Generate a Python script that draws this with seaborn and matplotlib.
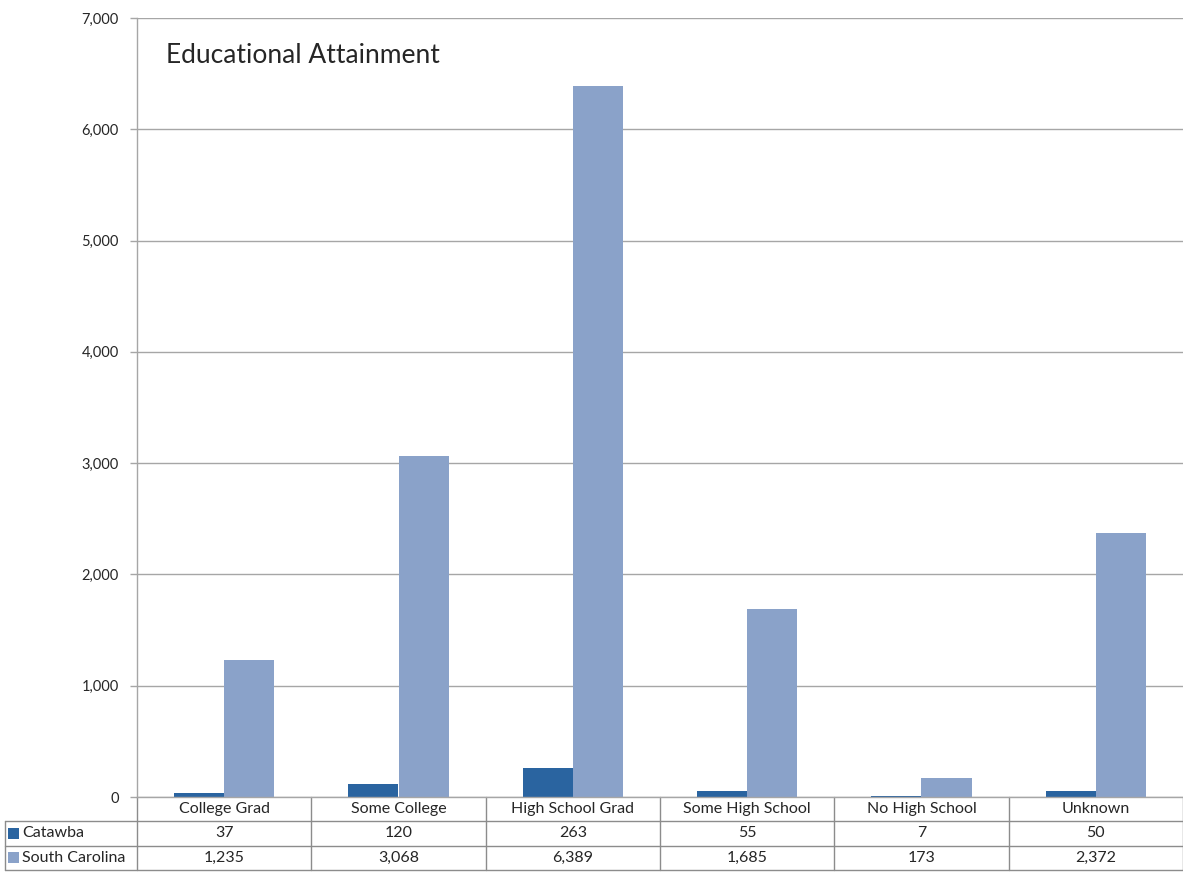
import matplotlib
matplotlib.use('Agg')
import matplotlib.pyplot as plt
from matplotlib.patches import Rectangle
import seaborn as sns
import pandas as pd

categories = ["College Grad", "Some College", "High School Grad",
              "Some High School", "No High School", "Unknown"]
series_names = ["Catawba", "South Carolina"]
catawba = [37, 120, 263, 55, 7, 50]
south_carolina = [1235, 3068, 6389, 1685, 173, 2372]
y_ticks = [0, 1000, 2000, 3000, 4000, 5000, 6000, 7000]
title = "Educational Attainment"

colors = ["#2A64A0", "#8AA2C9"]
grid_c = "#A6A6A6"
border_c = "#8C8C8C"

df = pd.DataFrame({
    "category": categories * 2,
    "series": [series_names[0]] * len(categories) + [series_names[1]] * len(categories),
    "value": catawba + south_carolina,
})

sns.set_style("white")
plt.rcParams['font.family'] = ['Lato', 'DejaVu Sans']

W, H = 1183, 888
fig = plt.figure(figsize=(W / 100, H / 100), dpi=100)
ax = fig.add_axes([137 / W, 1 - 797 / H, 1046 / W, 779 / H])

sns.barplot(data=df, x="category", y="value", hue="series", palette=colors,
            width=0.575, saturation=1, ax=ax, legend=False, linewidth=0)

ax.set_xlim(-0.5, len(categories) - 0.5)
ax.set_ylim(0, 7000)
ax.set_yticks(y_ticks)
ax.set_yticklabels([f"{v:,}" for v in y_ticks], fontsize=10.5)
ax.set_xticks([])
ax.set_xlabel("")
ax.set_ylabel("")
ax.yaxis.grid(True, color=grid_c, lw=1)
ax.set_axisbelow(True)
ax.tick_params(axis="y", length=5, width=1, color=grid_c, pad=8, left=True)
for s in ["top", "right"]:
    ax.spines[s].set_visible(False)
for s in ["left", "bottom"]:
    ax.spines[s].set_color(grid_c)
    ax.spines[s].set_linewidth(1)

ax.text(29 / 1046, 0.952, title, transform=ax.transAxes,
        fontsize=19, va="center", ha="left")

# data table under the plot
n = len(categories)
rh = 24.3 / 779
left = -132 / 1046
tr = ax.transAxes
kw = dict(transform=tr, clip_on=False, color=border_c, lw=1)
for i in range(n + 1):
    ax.plot([i / n, i / n], [0, -3 * rh], **kw)
for r in (1, 2, 3):
    ax.plot([left, 1], [-r * rh, -r * rh], **kw)
ax.plot([left, left], [-rh, -3 * rh], **kw)

fs = 11.5
for i, cat in enumerate(categories):
    xc = (i + 0.5) / n
    ax.text(xc, -0.5 * rh, cat, transform=tr, ha="center", va="center", fontsize=fs)
    ax.text(xc, -1.5 * rh, f"{catawba[i]:,}", transform=tr, ha="center", va="center", fontsize=fs)
    ax.text(xc, -2.5 * rh, f"{south_carolina[i]:,}", transform=tr, ha="center", va="center", fontsize=fs)

sq_w = 11 / 1046
sq_h = 11 / 779
for r, (name, c) in enumerate(zip(series_names, colors), start=1):
    yc = -(r + 0.5) * rh
    ax.add_patch(Rectangle((left + 3 / 1046, yc - sq_h / 2), sq_w, sq_h,
                           transform=tr, clip_on=False, color=c, lw=0))
    ax.text(left + 17 / 1046, yc, name, transform=tr, ha="left", va="center", fontsize=fs)

fig.savefig("out.png", dpi=100)
